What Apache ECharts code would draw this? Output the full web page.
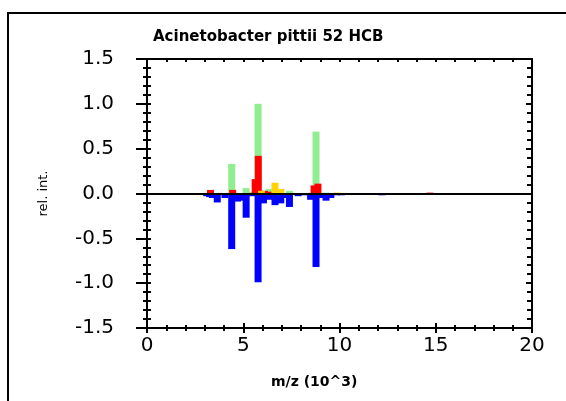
<!DOCTYPE html>
<html>
<head>
<meta charset="utf-8">
<script src="https://cdn.jsdelivr.net/npm/echarts@6/dist/echarts.min.js"></script>
<style>
  html, body { margin: 0; padding: 0; background: #fff; }
  #chart { width: 566px; height: 401px; }
</style>
</head>
<body>
<div id="chart"></div>
<script>
// m/z in 10^3, rel. int.
const blueX = [3.1, 3.25, 3.4, 3.65, 4.05, 4.4, 4.7, 4.9, 5.15, 5.45, 5.77, 6.05, 6.35, 6.65, 6.95, 7.15, 7.4, 7.85, 8.2, 8.5, 8.78, 9.1, 9.3, 9.55, 9.85, 10.1, 12.2];
const blueY = [-0.03, -0.04, -0.05, -0.1, -0.05, -0.62, -0.09, -0.08, -0.27, -0.03, -0.99, -0.11, -0.07, -0.13, -0.11, -0.05, -0.15, -0.03, -0.02, -0.07, -0.82, -0.05, -0.08, -0.05, -0.02, -0.02, -0.02];

const greenX = [4.4, 5.15, 5.45, 5.77, 6.35, 7.4, 8.78, 9.3];
const greenY = [0.33, 0.06, 0.02, 1.0, 0.05, 0.03, 0.69, 0.01];

const redX = [3.3, 4.45, 5.62, 5.78, 6.1, 6.3, 8.68, 8.88, 12.3, 14.7];
const redY = [0.04, 0.04, 0.16, 0.42, 0.03, 0.02, 0.09, 0.11, 0.005, 0.01];

const yellowX = [5.95, 6.65, 6.95, 9.9];
const yellowY = [0.03, 0.12, 0.05, 0.01];

const yTicks = ["-1.5", "-1.0", "-0.5", "0.0", "0.5", "1.0", "1.5"];

const pairs = (xs, ys) => xs.map((x, i) => [x, ys[i]]);

const chart = echarts.init(document.getElementById("chart"));

const font = "'DejaVu Sans', sans-serif";
const black = "#000";

const barSeries = (name, xs, ys, color) => ({
    name,
    type: "bar",
    data: pairs(xs, ys),
    barWidth: 7,
    barGap: "-100%",
    itemStyle: { color },
    silent: true,
});

const tickStyle = { color: black, width: 2 };

const option = {
    animation: false,
    title: {
        text: "Acinetobacter pittii 52 HCB",
        left: 148,
        top: 25,
        textStyle: { fontFamily: font, fontSize: 15, fontWeight: "bold", color: black },
    },
    grid: { left: 147, right: 34, top: 59, bottom: 73 },
    xAxis: [
        {
            type: "value",
            min: 0,
            max: 20,
            interval: 5,
            position: "bottom",
            axisLine: { onZero: false, lineStyle: tickStyle },
            axisTick: { length: 5, lineStyle: tickStyle },
            minorTick: { show: true, splitNumber: 5, length: 3, lineStyle: tickStyle },
            splitLine: { show: false },
            axisLabel: { fontFamily: font, fontSize: 20, color: black, margin: 8 },
        },
        {
            type: "value",
            min: 0,
            max: 20,
            interval: 5,
            position: "bottom",
            axisLine: { show: false, onZero: false },
            axisTick: { inside: true, length: 5, lineStyle: tickStyle },
            minorTick: { show: true, splitNumber: 5, length: 3, lineStyle: tickStyle },
            splitLine: { show: false },
            axisLabel: { show: false },
        },
        {
            type: "value",
            min: 0,
            max: 20,
            interval: 1,
            position: "top",
            axisLine: { onZero: false, lineStyle: tickStyle },
            axisTick: { inside: true, length: 3, lineStyle: tickStyle },
            splitLine: { show: false },
            axisLabel: { show: false },
        },
    ],
    yAxis: [
        {
            type: "value",
            min: -1.5,
            max: 1.5,
            interval: 0.5,
            position: "left",
            name: "rel. int.",
            nameLocation: "middle",
            nameRotate: 90,
            nameGap: 97,
            nameTextStyle: { fontFamily: font, fontSize: 13, color: black },
            axisLine: { onZero: false, lineStyle: tickStyle },
            axisTick: { length: 11, lineStyle: tickStyle },
            minorTick: { show: true, splitNumber: 5, length: 4, lineStyle: tickStyle },
            splitLine: { show: false },
            axisLabel: {
                fontFamily: font,
                fontSize: 20,
                color: black,
                margin: 33,
                formatter: (v) => yTicks[Math.round((v + 1.5) / 0.5)],
            },
        },
        {
            type: "value",
            min: -1.5,
            max: 1.5,
            interval: 0.5,
            position: "left",
            axisLine: { show: false, onZero: false },
            axisTick: { inside: true, length: 4, lineStyle: tickStyle },
            minorTick: { show: true, splitNumber: 5, length: 4, lineStyle: tickStyle },
            splitLine: { show: false },
            axisLabel: { show: false },
        },
        {
            type: "value",
            min: -1.5,
            max: 1.5,
            interval: 0.5,
            position: "right",
            axisLine: { onZero: false, lineStyle: tickStyle },
            axisTick: { inside: true, length: 6, lineStyle: tickStyle },
            minorTick: { show: true, splitNumber: 5, length: 5, lineStyle: tickStyle },
            splitLine: { show: false },
            axisLabel: { show: false },
        },
    ],
    series: [
        Object.assign(barSeries("neg", blueX, blueY, "#0000ff"), {
            markLine: {
                symbol: "none",
                silent: true,
                label: { show: false },
                lineStyle: { color: black, width: 2, type: "solid" },
                data: [{ yAxis: 0 }],
            },
        }),
        barSeries("green", greenX, greenY, "#90ee90"),
        barSeries("red", redX, redY, "#ff0000"),
        barSeries("yellow", yellowX, yellowY, "#ffd200"),
    ],
    graphic: [
        {
            type: "polyline",
            silent: true,
            shape: { points: [[8, 402], [8, 13], [567, 13]] },
            style: { stroke: black, lineWidth: 2, fill: null },
        },
        {
            type: "text",
            left: 271,
            top: 375,
            silent: true,
            style: {
                text: "m/z (10^3)",
                font: "bold 14px " + font,
                fill: black,
            },
        },
    ],
};

chart.setOption(option);
</script>
</body>
</html>
